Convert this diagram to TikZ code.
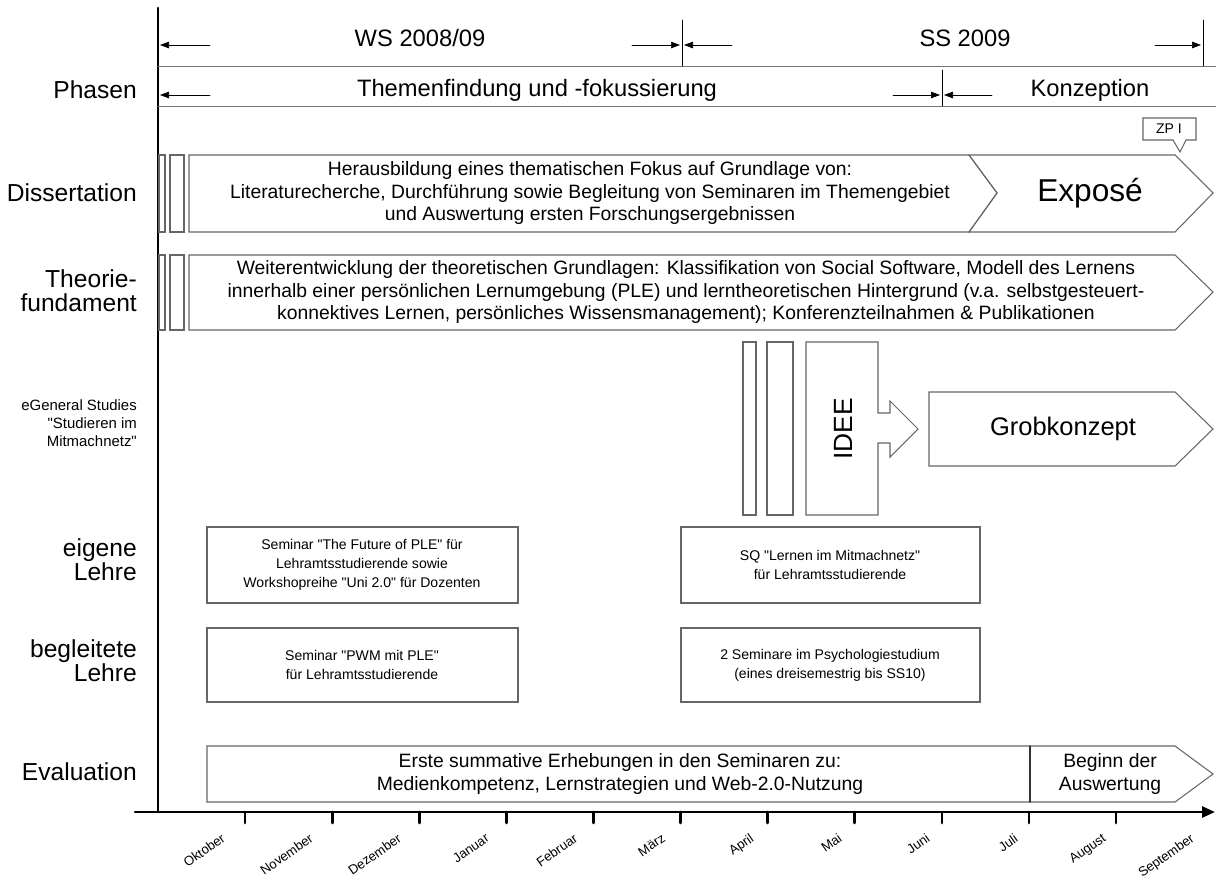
\documentclass[tikz,border=0pt]{standalone}
\usepackage{fontspec}
\setmainfont{Liberation Sans}[Ligatures=TeXOff]
\usetikzlibrary{arrows.meta}

\begin{document}
\begin{tikzpicture}[x=0.02cm,y=-0.02cm,>={Triangle[length=1.8mm,width=1.3mm]},line cap=round,
  box/.style={draw=black!60,line width=0.6pt},
  axis/.style={line width=1.5pt},
  rowlabel/.style={anchor=east,align=right,font=\fontsize{14}{13.6}\selectfont},
  headtext/.style={font=\fontsize{13.5}{15}\selectfont},
  boxtext/.style={align=center,font=\fontsize{11}{13}\selectfont},
  smalltext/.style={align=center,font=\fontsize{8}{10.8}\selectfont},
  month/.style={rotate=35,anchor=north east,inner sep=1pt,font=\fontsize{7.5}{9}\selectfont}]
\useasboundingbox (0,0) rectangle (1216,894);
\draw[axis] (158,8) -- (158,812);
\draw[axis,-{Triangle[length=2.6mm,width=2.2mm]}] (135,812) -- (1215,812);
\foreach \i in {1,...,11}
  \draw[axis] ({158+87.1*\i},812) -- ++(0,11);
\foreach \m [count=\i] in {Oktober,November,Dezember,Januar,Februar,März,April,Mai,Juni,Juli,August,September}
  \node[month] (m\i) at ({158+87.1*(\i-1)+62+\i},830) {\m};
\draw[black!55] (158,66) -- (1216,66);
\draw[black!55] (158,106) -- (1216,106);
\node[headtext] (ws) at (420,38) {WS 2008/09};
\node[headtext] (ss) at (965,38) {SS 2009};
\draw[->] (210,45) -- (160,45);
\draw[->] (632,45) -- (680,45);
\draw[->] (732,45) -- (684,45);
\draw[->] (1155,45) -- (1201,45);
\draw (682,20) -- (682,66);
\draw (1203,20) -- (1203,66);
\node[rowlabel] (phasen) at (143,90) {Phasen};
\node[headtext] (thema) at (537,90) {Themenfindung und -fokussierung};
\node[headtext] (konz) at (1090,90) {Konzeption};
\draw[->] (210,95) -- (160,95);
\draw[->] (893,95) -- (940,95);
\draw[->] (992,95) -- (944,95);
\draw (942,70) -- (942,106);
\node[rowlabel] (diss) at (143,193) {Dissertation};
\draw[box] (159,155) rectangle (165,232);
\draw[box] (170,155) rectangle (184,232);
\draw[box] (189,155) -- (969,155) -- (997,193) -- (969,232) -- (189,232) -- cycle;
\draw[box] (969,155) -- (1175,155) -- (1213,193) -- (1175,232) -- (969,232) -- (997,193) -- cycle;
\node[boxtext] (fokus) at (590,193) {Herausbildung eines thematischen Fokus auf Grundlage von:\\Literaturecherche, Durchführung sowie Begleitung von Seminaren im Themengebiet\\und Auswertung ersten Forschungsergebnissen};
\node[font=\fontsize{18}{20}\selectfont] (expose) at (1090,193) {Exposé};
\draw[box,fill=white] (1143,118) -- (1196,118) -- (1196,140) -- (1186,140) -- (1180,152) -- (1173,140) -- (1143,140) -- cycle;
\node[font=\fontsize{8}{9}\selectfont] (zp) at (1169,129) {ZP I};
\node[rowlabel] (theorie) at (143,291) {Theorie-\\fundament};
\draw[box] (159,255) rectangle (165,330);
\draw[box] (170,255) rectangle (184,330);
\draw[box] (189,255) -- (1175,255) -- (1213,292) -- (1175,330) -- (189,330) -- cycle;
\node[boxtext] (grundl) at (686,292) {Weiterentwicklung der theoretischen Grundlagen: Klassifikation von Social Software, Modell des Lernens\\innerhalb einer persönlichen Lernumgebung (PLE) und lerntheoretischen Hintergrund (v.a. selbstgesteuert-\\konnektives Lernen, persönliches Wissensmanagement); Konferenzteilnahmen \& Publikationen};
\node[rowlabel,font=\fontsize{8.5}{10.2}\selectfont] (egs) at (143,423) {eGeneral Studies\\"Studieren im\\Mitmachnetz"};
\draw[box] (743,342) rectangle (756,515);
\draw[box] (767,342) rectangle (793,515);
\draw[box] (806,342) -- (878,342) -- (878,413) -- (890,413) -- (890,401) -- (918,429) -- (890,457) -- (890,443) -- (878,443) -- (878,515) -- (806,515) -- cycle;
\node[rotate=90,font=\fontsize{15}{16}\selectfont] (idee) at (843,429) {IDEE};
\draw[box] (929,392) -- (1175,392) -- (1213,429) -- (1175,466) -- (929,466) -- cycle;
\node[font=\fontsize{14.5}{16}\selectfont] (grob) at (1063,429) {Grobkonzept};
\node[rowlabel] (eigene) at (143,560) {eigene\\Lehre};
\draw[box] (207,527) rectangle (518,603);
\node[smalltext] (future) at (362,565) {Seminar "The Future of PLE" für\\Lehramtsstudierende sowie\\Workshopreihe "Uni 2.0" für Dozenten};
\draw[box] (681,527) rectangle (980,603);
\node[smalltext] (sq) at (830,565) {SQ "Lernen im Mitmachnetz"\\für Lehramtsstudierende};
\node[rowlabel] (begl) at (143,661) {begleitete\\Lehre};
\draw[box] (207,628) rectangle (518,702);
\node[smalltext] (pwm) at (362,665) {Seminar "PWM mit PLE"\\für Lehramtsstudierende};
\draw[box] (681,628) rectangle (980,702);
\node[smalltext] (psy) at (830,665) {2 Seminare im Psychologiestudium\\(eines dreisemestrig bis SS10)};
\node[rowlabel] (eval) at (143,772) {Evaluation};
\draw[box] (207,746) -- (1175,746) -- (1213,774) -- (1175,802) -- (207,802) -- cycle;
\draw[black!80,line width=0.8pt] (1030,746) -- (1030,802);
\node[boxtext] (erheb) at (620,774) {Erste summative Erhebungen in den Seminaren zu:\\Medienkompetenz, Lernstrategien und Web-2.0-Nutzung};
\node[boxtext] (ausw) at (1110,774) {Beginn der\\Auswertung};
\end{tikzpicture}
\end{document}
